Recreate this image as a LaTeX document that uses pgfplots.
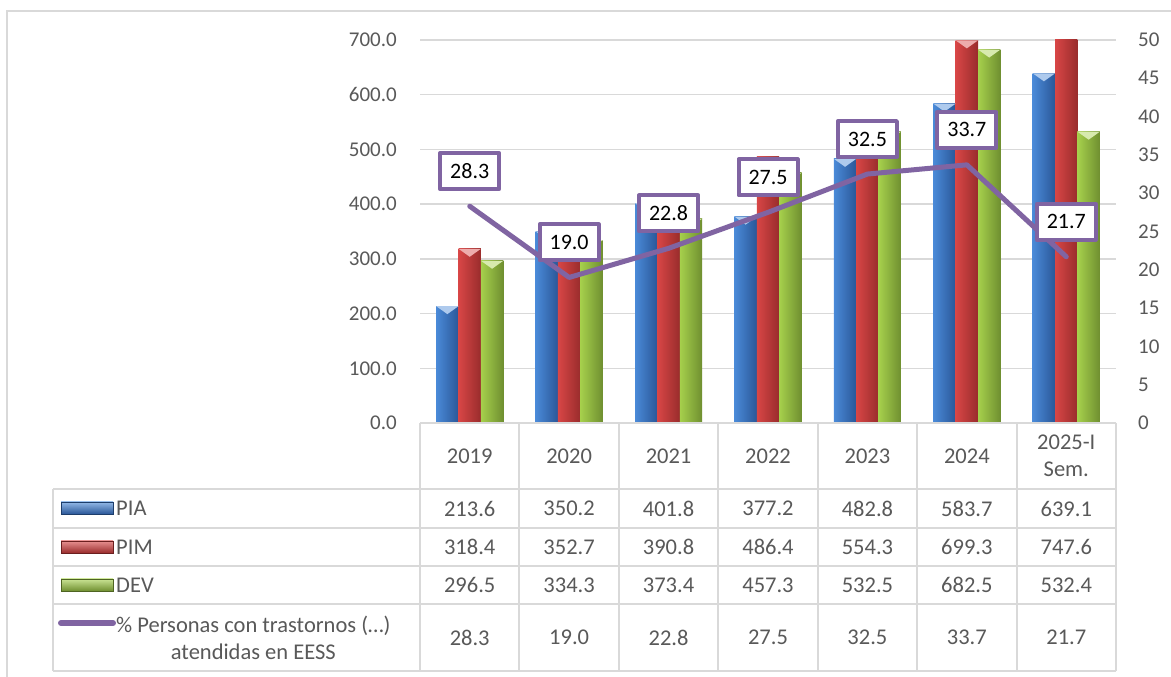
\documentclass[border=0pt]{standalone}
\usepackage{fontspec}
\setmainfont{Carlito}
\usepackage{pgfplots}
\usepackage{pgfplotstable}
\pgfplotsset{compat=1.18}

\definecolor{gridc}{HTML}{D9D9D9}
\definecolor{txt}{HTML}{595959}
\definecolor{linec}{HTML}{8064A2}
\definecolor{bL}{HTML}{4A8AD8}\definecolor{bM}{HTML}{3673C2}\definecolor{bR}{HTML}{2A5798}
\definecolor{rL}{HTML}{D84646}\definecolor{rM}{HTML}{C23A3B}\definecolor{rR}{HTML}{992C2C}
\definecolor{gL}{HTML}{A6D04C}\definecolor{gM}{HTML}{90B840}\definecolor{gR}{HTML}{6F8F30}

\pgfdeclareplotmark{capdown}{%
  \pgfpathmoveto{\pgfqpoint{-11.2pt}{0pt}}%
  \pgfpathlineto{\pgfqpoint{11.2pt}{0pt}}%
  \pgfpathlineto{\pgfqpoint{0pt}{-8pt}}%
  \pgfpathclose\pgfusepathqfill}

\pgfplotstableread{
x PIA PIM DEV PCT
0 213.6 318.4 296.5 28.3
1 350.2 352.7 334.3 19.0
2 401.8 390.8 373.4 22.8
3 377.2 486.4 457.3 27.5
4 482.8 554.3 532.5 32.5
5 583.7 699.3 682.5 33.7
6 639.1 747.6 532.4 21.7
}\data

\newcommand{\fs}{\fontsize{21}{25}\selectfont}
\newcommand{\ft}{\fontsize{22.5}{27}\selectfont}

\begin{document}
\begin{tikzpicture}
\path[use as bounding box] (0,0) rectangle (1171pt,677pt);
\fill[white] (0,0) rectangle (1171pt,677pt);
% outer frame (top & left)
\draw[gridc, line width=2pt] (7pt,0) -- (7pt,666pt) -- (1171pt,666pt);

\begin{axis}[
  at={(420pt,254pt)}, anchor=south west,
  scale only axis, width=696pt, height=383pt,
  xmin=-0.5, xmax=6.5, ymin=0, ymax=700,
  ytick={0,100,...,700},
  axis x line=none, axis y line*=left,
  y axis line style={draw=none},
  major tick length=0pt,
  ymajorgrids, grid style={gridc, line width=1.5pt},
  yticklabel style={inner sep=0pt, xshift=-23pt, font=\fs, text=txt},
  /pgf/number format/.cd, fixed, fixed zerofill, precision=1, assume math mode=true,
]
\pgfplotsinvokeforeach{0,...,6}{
\addplot[ybar, bar width=0.225, bar shift=-0.225, draw=none, left color=bL, middle color=bM, right color=bR,
  x filter/.expression={abs(x-#1)<0.1 ? x : nan}, mark=capdown, mark options={xshift=-22.37pt, fill=bL!45!white, draw=none}] table[x=x,y=PIA]{\data};
\addplot[ybar, bar width=0.225, bar shift=0, draw=none, left color=rL, middle color=rM, right color=rR,
  x filter/.expression={abs(x-#1)<0.1 ? x : nan}, mark=capdown, mark options={fill=rL!45!white, draw=none}] table[x=x,y=PIM]{\data};
\addplot[ybar, bar width=0.225, bar shift=0.225, draw=none, left color=gL, middle color=gM, right color=gR,
  x filter/.expression={abs(x-#1)<0.1 ? x : nan}, mark=capdown, mark options={xshift=22.37pt, fill=gL!45!white, draw=none}] table[x=x,y=DEV]{\data};
}
\end{axis}

\begin{axis}[
  at={(420pt,254pt)}, anchor=south west,
  scale only axis, width=696pt, height=383pt,
  xmin=-0.5, xmax=6.5, ymin=0, ymax=50,
  ytick={0,5,...,50},
  axis x line=none, axis y line*=right,
  y axis line style={draw=none},
  major tick length=0pt,
  clip=false,
  yticklabel style={inner sep=0pt, xshift=22pt, font=\fs, text=txt},
  /pgf/number format/assume math mode=true,
]
\addplot[color=linec, line width=5pt, line join=round, line cap=round,
  nodes near coords={\pgfmathprintnumber[fixed,fixed zerofill,precision=1,assume math mode=true]{\pgfplotspointmeta}},
  every node near coord/.append style={anchor=south, yshift=15pt, draw=linec, line width=4pt,
     fill=white, text=black, font=\fontsize{22}{22}\selectfont, inner xsep=10pt, inner ysep=0pt,
     minimum height=36pt}
] table[x=x,y=PCT]{\data};
\end{axis}

\begin{scope}[x=1pt,y=1pt]
% table grid
\foreach \yy in {489,528,566,604,671}{
  \draw[gridc, line width=2pt] (53,677-\yy) -- (1116,677-\yy);
}
\draw[gridc, line width=2pt] (420,677-423) -- (1116,677-423);
\draw[gridc, line width=2pt] (53,677-489) -- (53,677-671);
\foreach \k in {0,...,7}{
  \draw[gridc, line width=2pt] ({420+99.43*\k},677-423) -- ({420+99.43*\k},677-671);
}
% header
\foreach \i/\lab in {0/2019,1/2020,2/2021,3/2022,4/2023,5/2024,6/{2025-I\\Sem.}}{
  \node[align=center, font=\ft, text=txt, inner sep=0pt] at ({469.7+99.43*\i},677-456) {\lab};
}
% values
\foreach \col/\yy in {PIA/508.5,PIM/547,DEV/585,PCT/637.5}{
  \foreach \i in {0,...,6}{
    \pgfplotstablegetelem{\i}{\col}\of\data
    \node[font=\ft, text=txt, inner sep=0pt] at ({469.7+99.43*\i},677-\yy) {\pgfplotsretval};
  }
}
% legend keys
\draw[bR!70!black, top color=bL!60!white, bottom color=bR, line width=0.8pt] (61,677-502) rectangle (113,677-514);
\draw[rR!70!black, top color=rL!60!white, bottom color=rR, line width=0.8pt] (61,677-541) rectangle (113,677-553);
\draw[gR!70!black, top color=gL!60!white, bottom color=gR, line width=0.8pt] (61,677-579) rectangle (113,677-591);
\draw[linec, line width=6pt, line cap=round] (61,677-623) -- (113,677-623);
\node[anchor=west, font=\ft, text=txt, inner sep=0pt] at (116,677-508.5) {PIA};
\node[anchor=west, font=\ft, text=txt, inner sep=0pt] at (116,677-547) {PIM};
\node[anchor=west, font=\ft, text=txt, inner sep=0pt] at (116,677-585) {DEV};
\node[align=center, anchor=west, font=\ft, text=txt, inner sep=0pt] at (116,677-637.5) {\% Personas con trastornos (…)\\atendidas en EESS};
\end{scope}
\end{tikzpicture}
\end{document}
